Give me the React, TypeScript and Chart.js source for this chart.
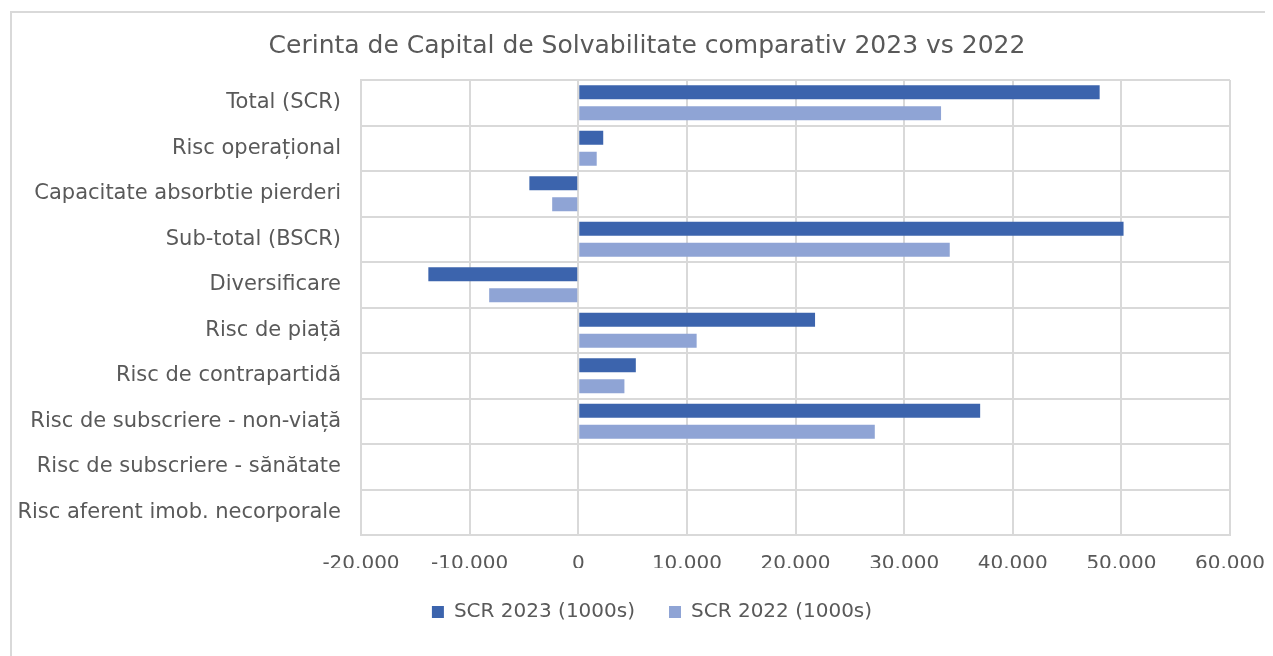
import React, { useEffect, useRef } from "react";
import { Chart, registerables } from "chart.js";

Chart.register(...registerables);

const categories = [
  "Total (SCR)",
  "Risc operațional",
  "Capacitate absorbtie pierderi",
  "Sub-total (BSCR)",
  "Diversificare",
  "Risc de piață",
  "Risc de contrapartidă",
  "Risc de subscriere - non-viață",
  "Risc de subscriere - sănătate",
  "Risc aferent imob. necorporale",
];

const scr2023 = [48000, 2300, -4500, 50200, -13800, 21800, 5300, 37000, 0, 0];
const scr2022 = [33400, 1700, -2400, 34200, -8200, 10900, 4250, 27300, 0, 0];

const seriesNames = ["SCR 2023 (1000s)", "SCR 2022 (1000s)"];
const titleText = "Cerinta de Capital de Solvabilitate comparativ 2023 vs 2022";

const xMin = -20000;
const xMax = 60000;
const xStep = 10000;

const FONT = "'DejaVu Sans', sans-serif";
const TEXT = "#595959";
const GRID = "#d9d9d9";

function fmt(v: number): string {
  const neg = v < 0;
  const s = Math.abs(Math.round(v)).toString().replace(/\B(?=(\d{3})+(?!\d))/g, ".");
  return (neg ? "-" : "") + s;
}

// Shift the title and legend blocks horizontally so they are centred like the original.
const shiftBlocks = {
  id: "shiftBlocks",
  afterLayout(chart: any) {
    if (chart.titleBlock) {
      chart.titleBlock.left += 26;
      chart.titleBlock.right += 26;
    }
    if (chart.legend) {
      chart.legend.left += 31;
      chart.legend.right += 31;
    }
  },
};

export default function App() {
  const ref = useRef<HTMLCanvasElement | null>(null);

  useEffect(() => {
    if (!ref.current) return;
    const chart = new Chart(ref.current, {
      type: "bar",
      data: {
        labels: categories,
        datasets: [
          {
            label: seriesNames[0],
            data: scr2023,
            backgroundColor: "#3C64AD",
            categoryPercentage: 0.923,
            barPercentage: 0.667,
          },
          {
            label: seriesNames[1],
            data: scr2022,
            backgroundColor: "#8FA4D5",
            categoryPercentage: 0.923,
            barPercentage: 0.667,
          },
        ],
      },
      plugins: [shiftBlocks],
      options: {
        indexAxis: "y",
        responsive: false,
        animation: false,
        layout: { padding: { top: 0, right: 43, bottom: 24, left: 0 } },
        plugins: {
          title: {
            display: true,
            text: titleText,
            color: TEXT,
            font: { family: FONT, size: 25, weight: "normal" },
            padding: { top: 18, bottom: 19 },
          },
          legend: {
            position: "bottom",
            labels: {
              color: TEXT,
              font: { family: FONT, size: 20 },
              boxWidth: 12,
              boxHeight: 12,
              padding: 34,
            },
          },
          tooltip: { enabled: false },
        },
        scales: {
          x: {
            min: xMin,
            max: xMax,
            ticks: {
              stepSize: xStep,
              color: TEXT,
              font: { family: FONT, size: 20 },
              padding: 17,
              callback: (v: any) => fmt(Number(v)),
              maxRotation: 0,
            },
            grid: { color: GRID, lineWidth: 2, drawTicks: false },
            border: { color: GRID, width: 2 },
            afterFit: (s: any) => {
              s.height = 33;
              s.paddingLeft = 0;
              s.paddingRight = 0;
            },
          },
          y: {
            ticks: {
              color: TEXT,
              font: { family: FONT, size: 21 },
              padding: 20,
            },
            grid: { color: GRID, lineWidth: 2, drawTicks: false, offset: true },
            border: { color: GRID, width: 2 },
            afterFit: (s: any) => {
              s.width = 349;
            },
          },
        },
      },
    });
    return () => chart.destroy();
  }, []);

  return (
    <div
      style={{
        marginLeft: 2,
        marginTop: 3,
        width: 1263,
        height: 645,
        borderTop: "2px solid #d9d9d9",
        borderLeft: "2px solid #d9d9d9",
        overflow: "hidden",
      }}
    >
      <canvas ref={ref} width={1261} height={643} style={{ display: "block" }} />
    </div>
  );
}
